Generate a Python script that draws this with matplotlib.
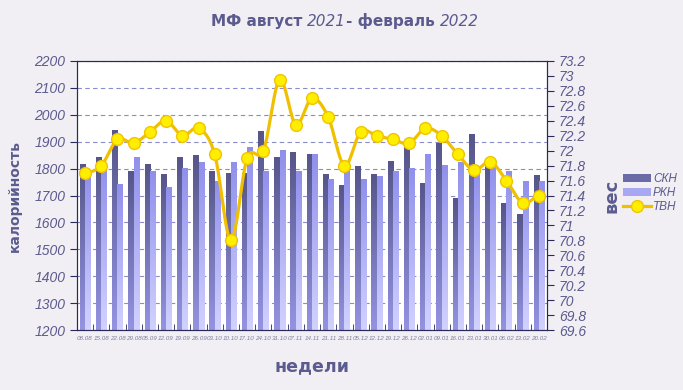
import numpy as np
import matplotlib
matplotlib.use("Agg")
from matplotlib import pyplot as plt
from matplotlib.patches import Patch
from matplotlib.lines import Line2D
from matplotlib.colors import LinearSegmentedColormap
from matplotlib.offsetbox import TextArea, HPacker, AnnotationBbox

# weeks (Sunday dates)
weeks = ["08.08", "15.08", "22.08", "29.08", "05.09", "12.09", "19.09", "26.09",
         "03.10", "10.10", "17.10", "24.10", "31.10", "07.11", "14.11", "21.11",
         "28.11", "05.12", "12.12", "19.12", "26.12", "02.01", "09.01", "16.01",
         "23.01", "30.01", "06.02", "13.02", "20.02"]

# calories
skn = [1817, 1843, 1940, 1788, 1817, 1777, 1843, 1847, 1788, 1780,
       1780, 1936, 1840, 1858, 1854, 1777, 1736, 1806, 1777, 1828,
       1877, 1744, 1895, 1688, 1928, 1817, 1669, 1628, 1773]
rkn = [1786, 1811, 1740, 1840, 1788, 1728, 1801, 1821, 1751, 1821,
       1880, 1788, 1869, 1788, 1851, 1758, 1805, 1758, 1769, 1788,
       1799, 1851, 1810, 1821, 1786, 1811, 1788, 1751, 1751]
# weight
tvn = [71.70, 71.80, 72.15, 72.10, 72.25, 72.40, 72.20, 72.30, 71.95, 70.80,
       71.90, 72.00, 72.95, 72.35, 72.70, 72.45, 71.80, 72.25, 72.20, 72.15,
       72.10, 72.30, 72.20, 71.95, 71.74, 71.85, 71.60, 71.30, 71.40]

txt = "#5b5b8f"
bg = "#f1eff3"

fig = plt.figure(figsize=(6.83, 3.9), dpi=100, facecolor=bg)
ax = fig.add_axes([0.1127, 0.1538, 0.6882, 0.6898])
ax.set_facecolor("white")

x = np.arange(len(weeks))
w = 0.33
dark_cm = LinearSegmentedColormap.from_list("d", ["#56568a", "#9393e2"])
light_cm = LinearSegmentedColormap.from_list("l", ["#9090ec", "#d2d2ff"])
grad = np.linspace(0, 1, 64).reshape(-1, 1)

bars1 = ax.bar(x - w / 2, skn, w, color="none")
bars2 = ax.bar(x + w / 2, rkn, w, color="none")
for bars, cm in ((bars1, dark_cm), (bars2, light_cm)):
    for b in bars:
        x0 = b.get_x()
        ax.imshow(grad, cmap=cm, extent=(x0, x0 + b.get_width(), 1200, b.get_height()),
                  aspect="auto", origin="upper", zorder=2)

ax.set_xlim(-0.5, len(weeks) - 0.5)
ax.set_ylim(1200, 2200)
ax.set_yticks(range(1200, 2201, 100))
ax.yaxis.grid(True, linestyle=(0, (4, 3)), color="#8c8cc8", linewidth=0.8)
ax.set_axisbelow(True)
ax.set_xticks(x)
ax.set_xticklabels(weeks, fontsize=4.5, style="italic", color="#8080a0",
                   family="Liberation Sans")
ax.set_xticks(np.arange(-0.5, len(weeks)), minor=True)
ax.tick_params(axis="x", which="major", length=0, pad=4)
ax.tick_params(axis="x", which="minor", length=4, color="#2a2a5a", direction="in")
ax.tick_params(axis="y", length=5, color="#2a2a5a", labelsize=10, labelcolor=txt)
for lab in ax.get_yticklabels():
    lab.set_fontstyle("italic")
    lab.set_family("Liberation Sans")
for s in ax.spines.values():
    s.set_color("#2a2a5a")
ax.set_ylabel("калорийность", fontsize=10, fontweight="bold", color=txt, labelpad=9)
ax.set_xlabel("недели", fontsize=12.5, fontweight="bold", color=txt, labelpad=12)

ax2 = ax.twinx()
ax2.set_ylim(69.6, 73.2)
rticks = np.round(np.arange(69.6, 73.21, 0.2), 1)
ax2.set_yticks(rticks)
ax2.set_yticklabels([f"{v:g}" for v in rticks])
ax2.tick_params(axis="y", length=5, color="#2a2a5a", labelsize=10, labelcolor=txt)
for lab in ax2.get_yticklabels():
    lab.set_fontstyle("italic")
    lab.set_family("Liberation Sans")
for s in ax2.spines.values():
    s.set_color("#2a2a5a")
ax2.set_ylabel("вес", fontsize=13, fontweight="bold", color=txt, labelpad=12)

# smooth curve through the points (Catmull-Rom)
xs, ys = [], []
p = np.array(tvn)
n = len(p)
for i in range(n - 1):
    p0 = p[max(i - 1, 0)]
    p1 = p[i]
    p2 = p[i + 1]
    p3 = p[min(i + 2, n - 1)]
    t = np.linspace(0, 1, 20)
    yy = 0.5 * (2 * p1 + (-p0 + p2) * t + (2 * p0 - 5 * p1 + 4 * p2 - p3) * t ** 2
                + (-p0 + 3 * p1 - 3 * p2 + p3) * t ** 3)
    xs.extend(i + t)
    ys.extend(yy)
ax2.plot(xs, ys, color="#f0c000", linewidth=2.3, zorder=3)
ax2.plot(x, tvn, linestyle="none", marker="o", markersize=8.5,
         markerfacecolor="#ffee00", markeredgecolor="#f0c400", markeredgewidth=1, zorder=4)

handles = [Patch(facecolor="#6a6aa6", edgecolor="none"),
           Patch(facecolor="#a8a8f2", edgecolor="none"),
           Line2D([], [], color="#f0c000", linewidth=2.3, marker="o", markersize=8.5,
                  markerfacecolor="#ffee00", markeredgecolor="#f0c400")]
leg = fig.legend(handles, ["СКН", "РКН", "ТВН"], loc="center left",
                 bbox_to_anchor=(0.912, 0.505), frameon=False, handlelength=2.4,
                 handleheight=0.6, handletextpad=0.15, labelspacing=0.15,
                 borderpad=0, borderaxespad=0,
                 prop={"family": "Liberation Sans", "style": "italic", "size": 8.5})
for t in leg.get_texts():
    t.set_color(txt)

# title with italic years
parts = [("МФ август ", "normal", "bold"), ("2021", "italic", "normal"),
         ("- февраль ", "normal", "bold"), ("2022", "italic", "normal")]
areas = [TextArea(s, textprops=dict(fontsize=11, fontstyle=st, fontweight=fw, color=txt))
         for s, st, fw in parts]
pack = HPacker(children=areas, align="baseline", pad=0, sep=0)
fig.add_artist(AnnotationBbox(pack, (0.505, 0.945), xycoords="figure fraction",
                              frameon=False, box_alignment=(0.5, 0.5)))

fig.savefig("out.png", dpi=100, facecolor=bg)
